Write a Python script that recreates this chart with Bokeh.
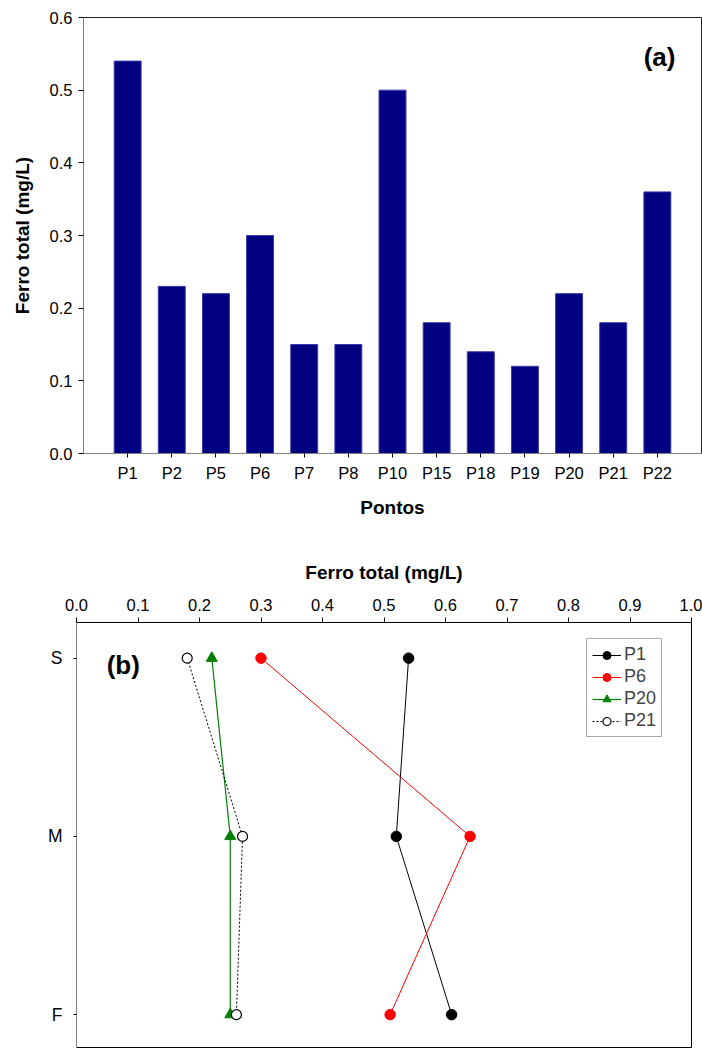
from bokeh.plotting import figure
from bokeh.layouts import column
from bokeh.models import Range1d, FixedTicker, Label, Legend, LegendItem
from bokeh.embed import file_html
from bokeh.resources import INLINE
import math

# ---------------- data ----------------
pontos = ["P1", "P2", "P5", "P6", "P7", "P8", "P10", "P15", "P18", "P19", "P20", "P21", "P22"]
ferro_total = [0.54, 0.23, 0.22, 0.30, 0.15, 0.15, 0.50, 0.18, 0.14, 0.12, 0.22, 0.18, 0.36]

profundidade = ["S", "M", "F"]
p1_vals = [0.54, 0.52, 0.61]
p6_vals = [0.30, 0.64, 0.51]
p20_vals = [0.22, 0.25, 0.25]
p21_vals = [0.18, 0.27, 0.26]

y_ticks_a = [0.0, 0.1, 0.2, 0.3, 0.4, 0.5, 0.6]
x_ticks_b = [0.0, 0.1, 0.2, 0.3, 0.4, 0.5, 0.6, 0.7, 0.8, 0.9, 1.0]

FONT = "Liberation Sans"
TICK_FS = "16.5px"
TITLE_FS = "19px"

# ---------------- chart (a) ----------------
xpos = list(range(1, len(pontos) + 1))
pa = figure(width=702, height=530, x_range=Range1d(0, len(pontos) + 1), y_range=Range1d(0, 0.6),
            output_backend="svg", toolbar_location=None,
            min_border_left=83, min_border_right=1, min_border_top=17, min_border_bottom=77)
pa.frame_align = False
pa.vbar(x=xpos, top=ferro_total, width=0.61, fill_color="#000080", line_color="#3a3aa8", line_width=1)
pa.xgrid.visible = False
pa.ygrid.visible = False
pa.outline_line_color = "#222222"

xa = pa.xaxis[0]
xa.ticker = FixedTicker(ticks=xpos)
xa.major_label_overrides = {i: n for i, n in zip(xpos, pontos)}
xa.axis_label = "Pontos"
ya = pa.yaxis[0]
ya.ticker = FixedTicker(ticks=y_ticks_a)
ya.major_label_overrides = {v: f"{v:.1f}" for v in y_ticks_a}
ya.axis_label = "Ferro total (mg/L)"
for ax in (xa, ya):
    ax.axis_line_color = "#808080"
    ax.major_tick_line_color = "black"
    ax.major_tick_in = 0
    ax.minor_tick_line_color = None
    ax.major_label_text_font = FONT
    ax.major_label_text_font_size = TICK_FS
    ax.major_label_text_color = "black"
    ax.axis_label_text_font = FONT
    ax.axis_label_text_font_size = TITLE_FS
    ax.axis_label_text_font_style = "bold"
    ax.axis_label_text_color = "black"
xa.major_tick_out = 4
xa.major_label_standoff = 6
xa.axis_label_standoff = 12
ya.major_tick_out = 5
ya.major_label_standoff = 6
ya.axis_label_standoff = 14

pa.add_layout(Label(x=13.05, y=0.545, text="(a)", text_font=FONT, text_font_size="26px",
                    text_font_style="bold", text_align="center", text_baseline="middle",
                    text_color="black"))

# ---------------- chart (b) ----------------
ypos = list(range(len(profundidade)))
pb = figure(width=702, height=518, x_range=Range1d(0, 1.0), y_range=Range1d(2.19, -0.2),
            x_axis_location="above", output_backend="svg", toolbar_location=None,
            min_border_left=76, min_border_right=11, min_border_top=92, min_border_bottom=0)
pb.frame_align = False
pb.xgrid.visible = False
pb.ygrid.visible = False
pb.outline_line_color = "black"

r1l = pb.line(p1_vals, ypos, line_color="black", line_width=1)
r1s = pb.scatter(p1_vals, ypos, marker="circle", size=10.5, fill_color="black", line_color="black")
r6l = pb.line(p6_vals, ypos, line_color="red", line_width=1)
r6s = pb.scatter(p6_vals, ypos, marker="circle", size=10.5, fill_color="red", line_color="red")
r20l = pb.line(p20_vals, ypos, line_color="green", line_width=1.2)
r20s = pb.scatter(p20_vals, ypos, marker="triangle", size=11, fill_color="green", line_color="green")
r21l = pb.line(p21_vals, ypos, line_color="black", line_width=1, line_dash="2 2")
r21s = pb.scatter(p21_vals, ypos, marker="circle", size=10, fill_color="white", line_color="black", line_width=1.2)

legend = Legend(items=[
    LegendItem(label="P1", renderers=[r1l, r1s]),
    LegendItem(label="P6", renderers=[r6l, r6s]),
    LegendItem(label="P20", renderers=[r20l, r20s]),
    LegendItem(label="P21", renderers=[r21l, r21s]),
], location=(510, 311))
legend.border_line_color = "#555555"
legend.border_line_width = 1
legend.background_fill_color = "white"
legend.label_text_font = FONT
legend.label_text_font_size = "18px"
legend.label_height = 20
legend.glyph_height = 20
legend.glyph_width = 29
legend.spacing = 1
legend.padding = 5
legend.label_standoff = 3
legend.margin = 0
pb.add_layout(legend)

xb = pb.xaxis[0]
xb.ticker = FixedTicker(ticks=x_ticks_b)
xb.major_label_overrides = {v: f"{v:.1f}" for v in x_ticks_b}
xb.axis_label = "Ferro total (mg/L)"
xb.axis_line_color = "black"
yb = pb.yaxis[0]
yb.ticker = FixedTicker(ticks=ypos)
yb.major_label_overrides = {i: n for i, n in zip(ypos, profundidade)}
yb.axis_line_color = "#808080"
for ax in (xb, yb):
    ax.major_tick_line_color = "black"
    ax.major_tick_in = 0
    ax.minor_tick_line_color = None
    ax.major_label_text_font = FONT
    ax.major_label_text_font_size = TICK_FS
    ax.major_label_text_color = "black"
    ax.axis_label_text_font = FONT
    ax.axis_label_text_font_size = TITLE_FS
    ax.axis_label_text_font_style = "bold"
    ax.axis_label_text_color = "black"
yb.major_label_text_font_size = "17.5px"
xb.major_tick_out = 5
xb.major_label_standoff = 7
xb.axis_label_standoff = 13
yb.major_tick_out = 3
yb.major_label_standoff = 11

pb.add_layout(Label(x=-0.0797, y=0.845, text="Profundidade", angle=math.pi / 2,
                    text_font=FONT, text_font_size=TITLE_FS, text_font_style="bold",
                    text_align="center", text_baseline="middle", text_color="black"))
pb.add_layout(Label(x=0.076, y=0.04, text="(b)", text_font=FONT, text_font_size="26px",
                    text_font_style="bold", text_align="center", text_baseline="middle",
                    text_color="black"))

layout = column(pa, pb, spacing=0)
open("out.html", "w").write(file_html(layout, INLINE))
